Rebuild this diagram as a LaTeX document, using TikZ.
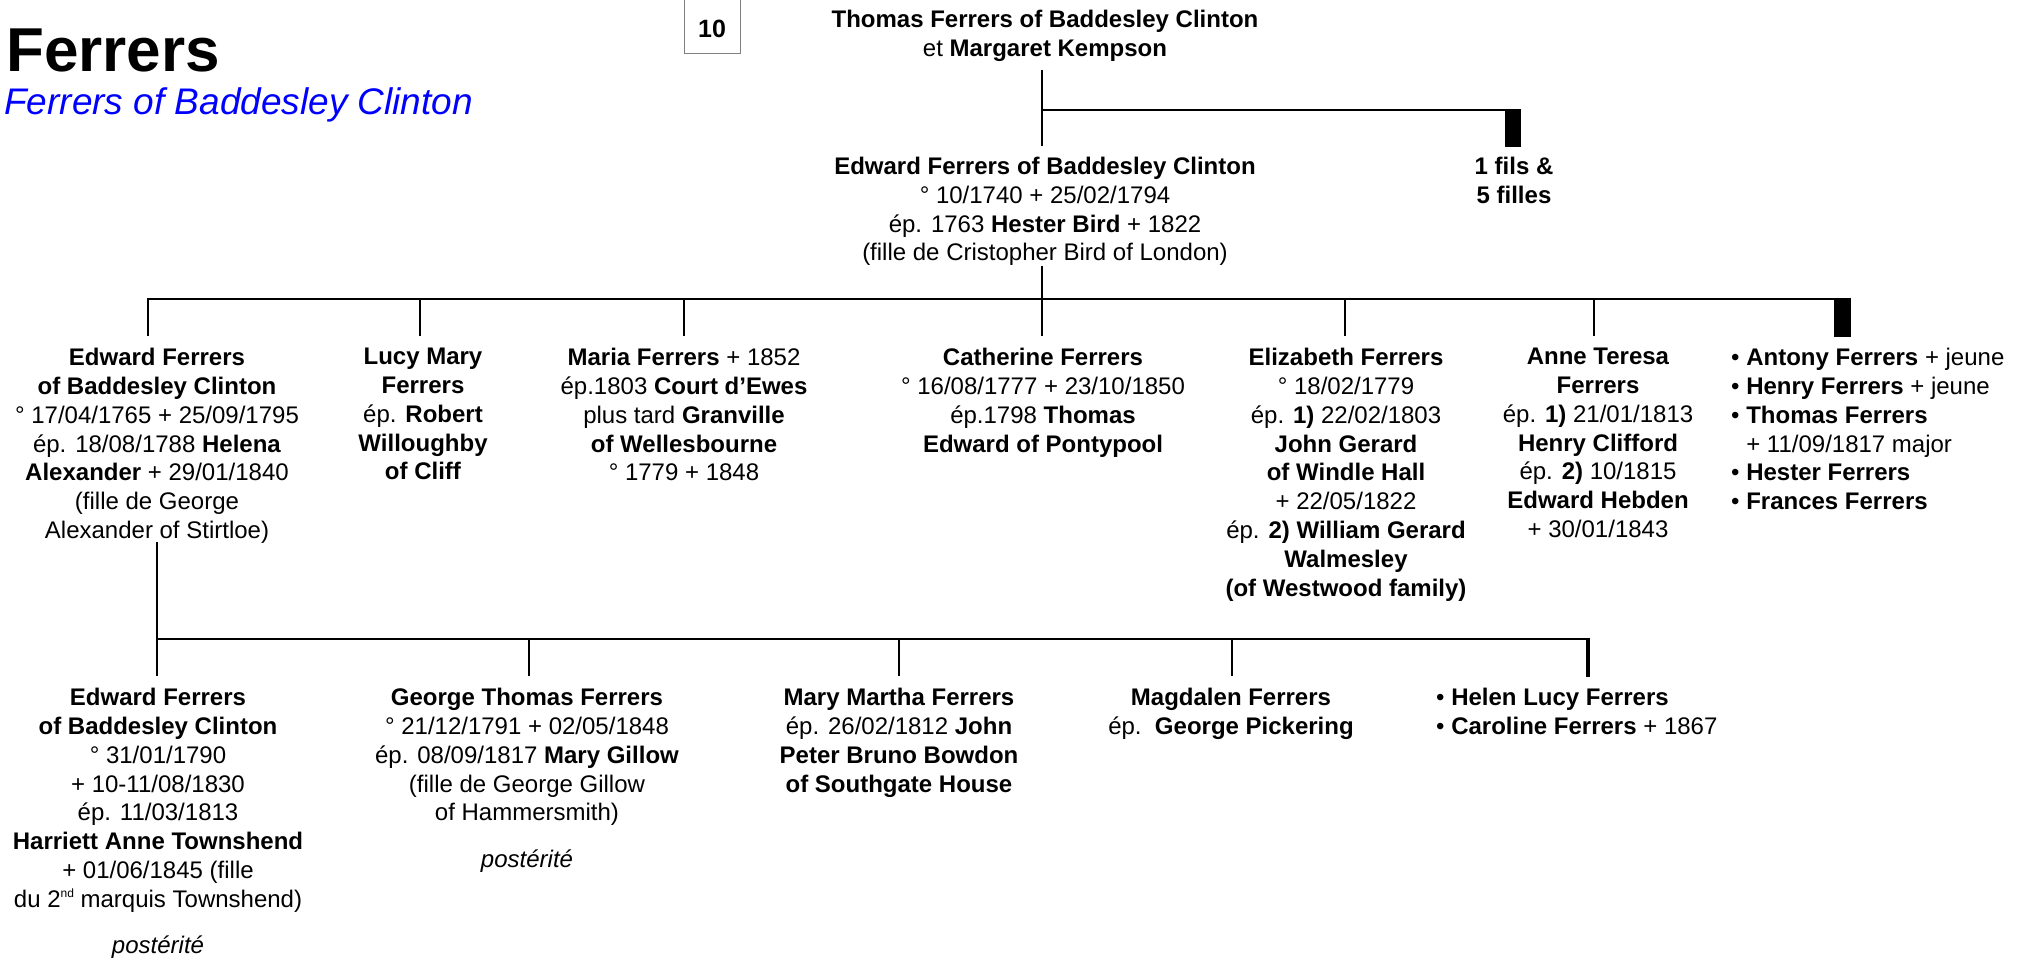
\documentclass[tikz,border=0pt]{standalone}
\usepackage{fontspec}
\setmainfont{Liberation Sans}
\usetikzlibrary{calc}
\definecolor{subblue}{RGB}{0,0,255}
\newcommand{\supnd}{\raisebox{0.75ex}{\fontsize{12}{12}\selectfont nd}}
\tikzset{
  conn/.style={line width=2.6pt, line cap=rect},
  txt/.style={inner sep=0pt, align=center, anchor=north, font=\fontsize{24}{28.8}\selectfont},
  lst/.style={inner sep=0pt, align=left, anchor=north west, font=\fontsize{24}{28.8}\selectfont},
  post/.style={inner sep=0pt, anchor=base, font=\fontsize{24}{28.8}\selectfont\itshape},
  endbar/.style={fill=black, draw=none}
}
\begin{document}
\begin{tikzpicture}[x=1pt,y=-1pt]
\useasboundingbox (0,0) rectangle (2023,959);
% titles
\node[inner sep=0pt, anchor=base west, font=\fontsize{62}{70}\selectfont\bfseries] (title) at (6,71) {Ferrers};
\node[inner sep=0pt, anchor=base west, font=\fontsize{37}{44}\selectfont\itshape, text=subblue] (subtitle) at (4,114) {Ferrers of Baddesley Clinton};
% page box
\draw[gray, line width=1pt] (684,-2) rectangle (740,53);
\node[inner sep=0pt, font=\fontsize{25}{30}\selectfont\bfseries] (num) at (712,29) {10};

% generation 1
\node[txt] (T) at (1045,10) {\textbf{Thomas Ferrers of Baddesley Clinton}\\et \textbf{Margaret Kempson}};
% generation 2
\node[txt] (E1) at (1045,157) {\textbf{Edward Ferrers of Baddesley Clinton}\\° 10/1740 + 25/02/1794\\ép. 1763 \textbf{Hester Bird} + 1822\\(fille de Cristopher Bird of London)};
\node[txt] (fils) at (1514,157) {\textbf{1 fils \&}\\\textbf{5 filles}};

\coordinate (b1) at (1042,110);
\coordinate (b1e) at (1516,110);
\draw[conn] ($(T.south -| b1)+(0,10)$) -- (b1) -- ($(E1.north -| b1)+(0,-12)$);
\draw[conn] (b1) -- (b1e);
\fill[endbar] (1505,109) rectangle (1521,147);

% generation 3
\node[txt] (E2) at (157,348) {\textbf{Edward Ferrers}\\\textbf{of Baddesley Clinton}\\° 17/04/1765 + 25/09/1795\\ép. 18/08/1788 \textbf{Helena}\\\textbf{Alexander} + 29/01/1840\\(fille de George\\Alexander of Stirtloe)};
\node[txt] (lucy) at (423,348) {\textbf{Lucy Mary}\\\textbf{Ferrers}\\ép. \textbf{Robert}\\\textbf{Willoughby}\\\textbf{of Cliff}};
\node[txt] (maria) at (684,348) {\textbf{Maria Ferrers} + 1852\\ép.1803 \textbf{Court d’Ewes}\\plus tard \textbf{Granville}\\\textbf{of Wellesbourne}\\° 1779 + 1848};
\node[txt] (cath) at (1043,348) {\textbf{Catherine Ferrers}\\° 16/08/1777 + 23/10/1850\\ép.1798 \textbf{Thomas}\\\textbf{Edward of Pontypool}};
\node[txt] (eliz) at (1346,348) {\textbf{Elizabeth Ferrers}\\° 18/02/1779\\ép. \textbf{1)} 22/02/1803\\\textbf{John Gerard}\\\textbf{of Windle Hall}\\+ 22/05/1822\\ép. \textbf{2) William Gerard}\\\textbf{Walmesley}\\\textbf{(of Westwood family)}};
\node[txt] (anne) at (1598,348) {\textbf{Anne Teresa}\\\textbf{Ferrers}\\ép. \textbf{1)} 21/01/1813\\\textbf{Henry Clifford}\\ép. \textbf{2)} 10/1815\\\textbf{Edward Hebden}\\+ 30/01/1843};
\node[lst] (others) at (1731,348) {• \textbf{Antony Ferrers} + jeune\\• \textbf{Henry Ferrers} + jeune\\• \textbf{Thomas Ferrers}\\\hphantom{• }+ 11/09/1817 major\\• \textbf{Hester Ferrers}\\• \textbf{Frances Ferrers}};

\coordinate (b2s) at (148,299);
\coordinate (b2m) at (1042,299);
\coordinate (b2e) at (1850,299);
\draw[conn] ($(E1.south -| b2m)+(0,1)$) -- (b2m);
\draw[conn] (b2s) -- (b2e);
\foreach \n/\xx in {E2/148, lucy/420, maria/684, cath/1042, eliz/1345, anne/1594}{
  \draw[conn] (\xx,299) -- ($(\n.north -| \xx,0)+(0,-13)$);
}
\fill[endbar] (1834,298) rectangle (1851,337);

% generation 4
\node[txt] (E3) at (158,688) {\textbf{Edward Ferrers}\\\textbf{of Baddesley Clinton}\\° 31/01/1790\\+ 10-11/08/1830\\ép. 11/03/1813\\\textbf{Harriett Anne Townshend}\\+ 01/06/1845 (fille\\du 2\supnd{} marquis Townshend)};
\node[post] (post1) at (158,953) {postérité};
\node[txt] (george) at (527,688) {\textbf{George Thomas Ferrers}\\° 21/12/1791 + 02/05/1848\\ép. 08/09/1817 \textbf{Mary Gillow}\\(fille de George Gillow\\of Hammersmith)};
\node[post] (post2) at (527,867) {postérité};
\node[txt] (mary) at (899,688) {\textbf{Mary Martha Ferrers}\\ép. 26/02/1812 \textbf{John}\\\textbf{Peter Bruno Bowdon}\\\textbf{of Southgate House}};
\node[txt] (magd) at (1231,688) {\textbf{Magdalen Ferrers}\\ép.\ \ \textbf{George Pickering}};
\node[lst] (sisters) at (1436,688) {• \textbf{Helen Lucy Ferrers}\\• \textbf{Caroline Ferrers} + 1867};

\coordinate (b3s) at (157,639);
\coordinate (b3e) at (1588,639);
\draw[conn] (E2.south -| b3s) -- (b3s);
\draw[conn] (b3s) -- (b3e);
\foreach \n/\xx in {E3/157, george/529, mary/899, magd/1232}{
  \draw[conn] (\xx,639) -- ($(\n.north -| \xx,0)+(0,-13)$);
}
\draw[line width=4.5pt] ($(b3e)+(0,-1.3)$) -- ($(b3e)+(0,38)$);
\end{tikzpicture}
\end{document}
